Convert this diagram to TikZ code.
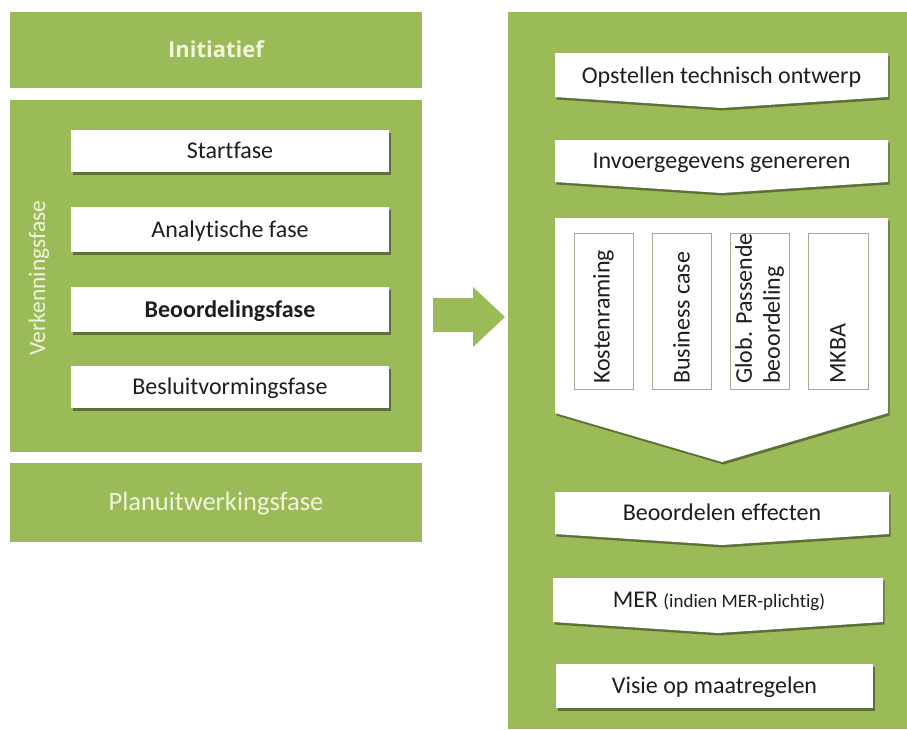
\documentclass[tikz,border=0pt]{standalone}
\usepackage{fontspec}
\setmainfont{Carlito}[Ligatures=NoCommon]
\newfontfamily\headfont{Open Sans}
\usetikzlibrary{shadows}

\definecolor{panelgreen}{HTML}{9BBB59}
\definecolor{lighttext}{HTML}{F1F5DE}
\definecolor{darktext}{HTML}{1E1E1E}
\definecolor{thinborder}{HTML}{A8AE88}

\tikzset{
  panel/.style={fill=panelgreen},
  card/.style={fill=white, drop shadow={shadow xshift=1.5pt, shadow yshift=-2.5pt, opacity=0.4, fill=black}},
  label/.style={inner sep=0pt, text=darktext, text height=15.5pt, text depth=0pt,
                font=\fontsize{24}{28}\selectfont},
  lightlabel/.style={label, text=lighttext},
  sublabel/.style={inner sep=0pt, text=darktext, align=left, rotate=90, anchor=west,
                   font=\fontsize{24}{28}\selectfont},
  subbox/.style={draw=thinborder, line width=0.8pt, fill=white},
}

\begin{document}
\begin{tikzpicture}[x=1pt, y=-1pt]
  \useasboundingbox (0,0) rectangle (907,729);

  % left column: phases
  \fill[panel] (10,12) rectangle (422,88);
  \fill[panel] (10,100) rectangle (422,452);
  \fill[panel] (10,463) rectangle (422,542);

  \node[lightlabel, text height=15.5pt, font=\headfont\bfseries\fontsize{22}{26}\selectfont]
    (initiatief) at (216,50) {Initiatief};
  \node[lightlabel, rotate=90, text height=15pt, font=\fontsize{23.5}{28}\selectfont]
    (verkenning) at (37.5,278) {Verkenningsfase};
  \node[lightlabel, text height=17pt, font=\fontsize{26.5}{30}\selectfont]
    (planuit) at (216,502) {Planuitwerkingsfase};

  \path[card] (71,130) rectangle (389,172);
  \path[card] (71,207) rectangle (389,252);
  \path[card] (71,287) rectangle (389,332);
  \path[card] (71,366) rectangle (389,408);

  \node[label] (start) at (230,151) {Startfase};
  \node[label] (analyse) at (230,229.5) {Analytische fase};
  \node[label, font=\bfseries\fontsize{24}{28}\selectfont] (beoordeling) at (230,309.5) {Beoordelingsfase};
  \node[label] (besluit) at (230,387) {Besluitvormingsfase};

  % block arrow between the columns
  \fill[panel] (433,298) -- (473,298) -- (473,287) -- (505,317) -- (473,347) -- (473,332) -- (433,332) -- cycle;

  % right column: steps of the assessment phase
  \fill[panel] (508,12) rectangle (907,729);

  \path[card] (555,53) -- (888,53) -- (888,97) -- (721.5,108) -- (555,97) -- cycle;
  \path[card] (555,140) -- (888,140) -- (888,182) -- (721.5,193) -- (555,182) -- cycle;
  \path[card] (555,218) -- (888,218) -- (888,413) -- (722,462) -- (555,413) -- cycle;
  \path[card] (555,492) -- (889,492) -- (889,534) -- (722,545) -- (555,534) -- cycle;
  \path[card] (553,578) -- (883,578) -- (883,622) -- (718,633) -- (553,622) -- cycle;
  \path[card] (556,664) rectangle (873,708);

  \node[label] (ontwerp) at (721.5,76) {Opstellen technisch ontwerp};
  \node[label] (invoer) at (721.5,161) {Invoergegevens genereren};
  \node[label] (effecten) at (722,513) {Beoordelen effecten};
  \node[label] (mer) at (719,600) {MER {\fontsize{19}{22}\selectfont(indien MER-plichtig)}};
  \node[label] (visie) at (714.5,686) {Visie op maatregelen};

  % parallel studies inside the large step
  \draw[subbox] (574,233) rectangle (633,389);
  \draw[subbox] (652,233) rectangle (711,389);
  \draw[subbox] (730,233) rectangle (789,389);
  \draw[subbox] (808,233) rectangle (868,389);

  \node[sublabel] (kosten) at (603.5,384) {Kostenraming};
  \node[sublabel] (business) at (681.5,384) {Business case};
  \node[sublabel] (passend) at (759.5,384) {Glob. Passende\\beoordeling};
  \node[sublabel] (mkba) at (838,384) {MKBA};
\end{tikzpicture}
\end{document}
